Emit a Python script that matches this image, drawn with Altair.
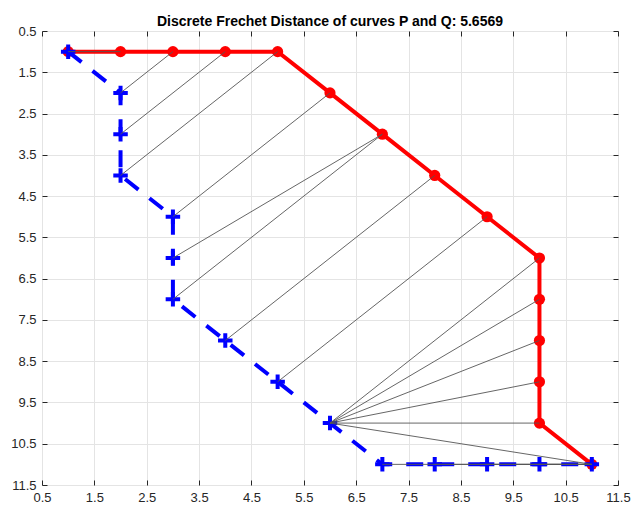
import altair as alt
import pandas as pd

# Curve P (red, circles)
p_x = [1, 2, 3, 4, 5, 6, 7, 8, 9, 10, 10, 10, 10, 10, 11]
p_y = [1, 1, 1, 1, 1, 2, 3, 4, 5, 6, 7, 8, 9, 10, 11]
# Curve Q (blue dashed, plus markers)
q_x = [1, 2, 2, 2, 3, 3, 3, 4, 5, 6, 7, 8, 9, 10, 11]
q_y = [1, 2, 3, 4, 5, 6, 7, 8, 9, 10, 11, 11, 11, 11, 11]
# Coupling sequence (1-based indices into P and Q)
link_p = [1, 2, 3, 4, 5, 6, 7, 7, 8, 9, 10, 11, 12, 13, 14, 15, 15, 15, 15, 15, 15]
link_q = [1, 1, 2, 3, 4, 5, 6, 7, 8, 9, 10, 10, 10, 10, 10, 10, 11, 12, 13, 14, 15]
tick_values = [0.5, 1.5, 2.5, 3.5, 4.5, 5.5, 6.5, 7.5, 8.5, 9.5, 10.5, 11.5]
title_text = "Discrete Frechet Distance of curves P and Q: 5.6569"

W, H = 576, 454
FONT = "Liberation Sans"
AX = "#262626"

P = pd.DataFrame({"x": p_x, "y": p_y, "i": list(range(len(p_x)))})
Q = pd.DataFrame({"x": q_x, "y": q_y, "i": list(range(len(q_x)))})
L = pd.DataFrame({
    "px": [p_x[i - 1] for i in link_p],
    "py": [p_y[i - 1] for i in link_p],
    "qx": [q_x[j - 1] for j in link_q],
    "qy": [q_y[j - 1] for j in link_q],
})

xs = alt.Scale(domain=[0.5, 11.5], nice=False, zero=False)
ys = alt.Scale(domain=[0.5, 11.5], nice=False, zero=False, reverse=True)

main_x = alt.Axis(orient="bottom", values=tick_values, format=".1f", title=None,
                  grid=True, gridColor="#e4e4e4", gridWidth=1, domain=False, ticks=False,
                  labelPadding=6, labelFont=FONT, labelFontSize=13, labelColor=AX,
                  labelFlush=False, labelOverlap=False)
main_y = alt.Axis(orient="left", values=tick_values, format=".1f", title=None,
                  grid=True, gridColor="#e4e4e4", gridWidth=1, domain=False, ticks=False,
                  labelPadding=6, labelFont=FONT, labelFontSize=13, labelColor=AX,
                  labelFlush=False, labelOverlap=False)


def tick_axis(orient, offset):
    return alt.Axis(orient=orient, offset=offset, values=tick_values, title=None,
                    labels=False, grid=False, domain=False, ticks=True,
                    tickSize=5, tickColor=AX, tickWidth=1)


# Red line P
p_line = alt.Chart(P).mark_line(color="#ff0000", strokeWidth=4).encode(
    x=alt.X("x:Q", scale=xs, axis=main_x),
    y=alt.Y("y:Q", scale=ys, axis=main_y),
    order="i:Q",
)
p_pts = alt.Chart(P).mark_point(shape="circle", filled=True, color="#ff0000",
                                size=125, opacity=1).encode(
    x=alt.X("x:Q", scale=xs, axis=None),
    y=alt.Y("y:Q", scale=ys, axis=None),
)
# Blue dashed line Q (carries inward ticks on bottom and left edges)
q_line = alt.Chart(Q).mark_line(color="#0000ff", strokeWidth=4,
                                strokeDash=[17, 14], strokeCap="butt").encode(
    x=alt.X("x:Q", scale=xs, axis=tick_axis("top", -H)),
    y=alt.Y("y:Q", scale=ys, axis=tick_axis("right", -W)),
    order="i:Q",
)
q_pts = alt.Chart(Q).mark_point(shape="M-1,0H1M0,-1V1", filled=False,
                                color="#0000ff", strokeWidth=4, size=210,
                                opacity=1).encode(
    x=alt.X("x:Q", scale=xs, axis=None),
    y=alt.Y("y:Q", scale=ys, axis=None),
)
# Coupling links (carry inward ticks on top and right edges)
links = alt.Chart(L).mark_rule(color="#555555", strokeWidth=0.9).encode(
    x=alt.X("px:Q", scale=xs, axis=tick_axis("bottom", -H)),
    y=alt.Y("py:Q", scale=ys, axis=tick_axis("left", -W)),
    x2="qx:Q",
    y2="qy:Q",
)

chart = alt.layer(p_line, p_pts, q_line, q_pts, links).resolve_axis(
    x="independent", y="independent"
).properties(
    width=W,
    height=H,
    autosize=alt.AutoSizeParams(type="none"),
    padding={"left": 42, "top": 31, "right": 14, "bottom": 22},
    title=alt.TitleParams(title_text, font=FONT, fontSize=14, fontWeight="bold",
                          color="#000000", anchor="middle", baseline="alphabetic",
                          offset=-15),
).configure_view(
    stroke=AX, strokeWidth=1
).configure(background="white")

chart.save("out.html", embed_options={"renderer": "svg", "actions": False})
